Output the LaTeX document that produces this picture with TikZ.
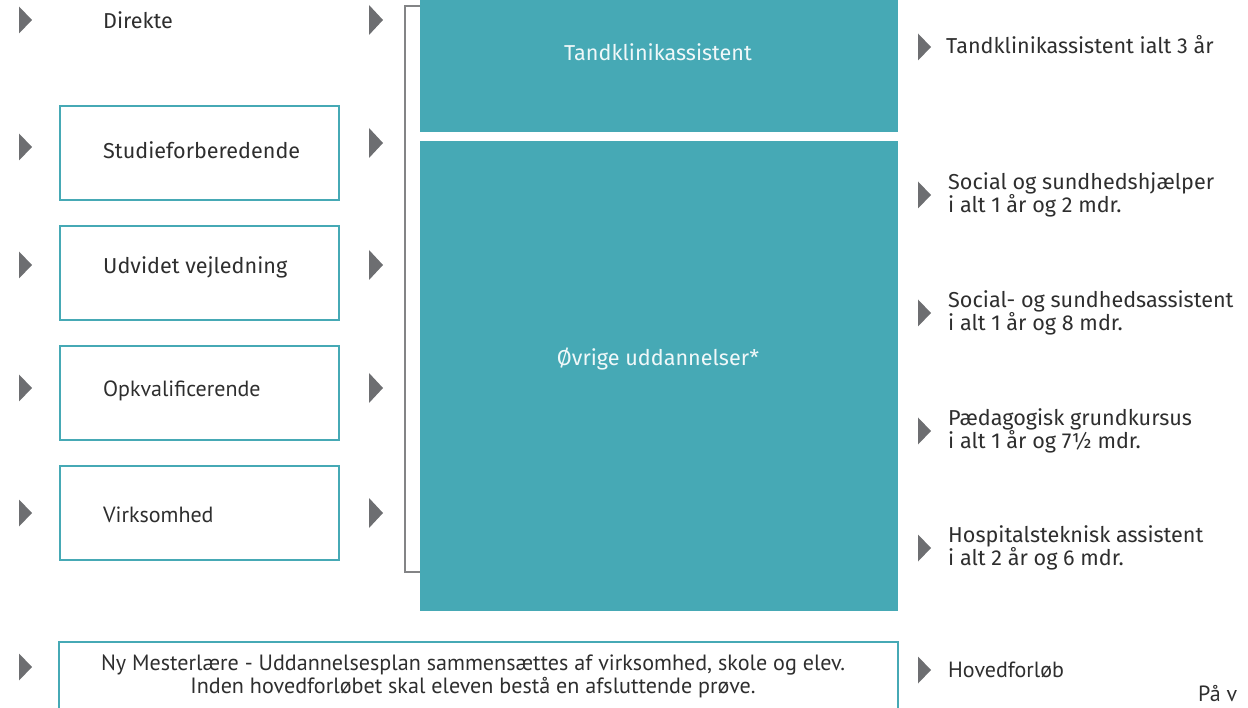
\documentclass[tikz,border=0pt]{standalone}
\usepackage{fontspec}
\setmainfont{Fira Sans}
\newfontfamily\myr{PT Sans}
\definecolor{teal1}{HTML}{46A9B5}
\definecolor{tgrey}{HTML}{6D6E71}
\definecolor{txt}{HTML}{2E2E2E}
\begin{document}
\begin{tikzpicture}[x=1pt,y=-1pt,
  every node/.style={font=\fontsize{21.6}{24}\selectfont, text=txt, inner sep=0pt},
  inbox/.style={draw=teal1, line width=1.6pt, minimum width=279pt, minimum height=94pt, anchor=north west},
  tealbox/.style={fill=teal1, minimum width=478pt, anchor=north west},
  myriad/.style={font=\myr\fontsize{22}{26}\selectfont},
  lbl/.style={anchor=west, align=left, font=\fontsize{21.6}{23}\selectfont}]
\useasboundingbox (0,0) rectangle (1248,708);
\newcommand\tri[4]{\fill[tgrey] (#1,#2-#4/2) -- (#1+#3,#2) -- (#1,#2+#4/2) -- cycle;}
% left triangles
\foreach \y in {20,147,265,388,513,667} {\tri{19}{\y}{13}{27}}
% mid triangles
\foreach \y in {20,143,265,388,513} {\tri{369}{\y}{14}{30}}
% right triangles
\foreach \y in {47,195,313,431,548,670} {\tri{918}{\y}{13}{27}}
% left items
\node[anchor=west] (dir) at (103,20) {Direkte};
\node[inbox] (b1) at (59,105) {};
\node[anchor=west] (t1) at (103,150) {Studieforberedende};
\node[inbox] (b2) at (59,225) {};
\node[anchor=west] (t2) at (103,267) {Udvidet vejledning};
\node[inbox] (b3) at (59,345) {};
\node[anchor=west, myriad] (t3) at (103,391) {Opkvalificerende};
\node[inbox] (b4) at (59,465) {};
\node[anchor=west, myriad] (t4) at (103,515) {Virksomhed};
% bracket
\coordinate (bt) at (420,6);
\coordinate (bb) at (420,572);
\draw[tgrey!85, line width=1.6pt] (bt) -- (405,6) -- (405,572) -- (bb);
% teal boxes
\node[tealbox, minimum height=132pt] (tk) at (420,0) {};
\node (tkt) at (658,52) {\color{white!92!teal1}Tandklinikassistent};
\node[tealbox, minimum height=470pt] (ov) at (420,141) {};
\node (ovt) at (658,359) {\color{white!92!teal1}Øvrige uddannelser*};
% right labels
\node[lbl] (r1) at (946,45) {Tandklinikassistent ialt 3 år};
\node[lbl] (r2) at (948,195) {Social og sundhedshjælper\\i alt 1 år og 2 mdr.};
\node[lbl] (r3) at (948,313) {Social- og sundhedsassistent\\i alt 1 år og 8 mdr.};
\node[lbl] (r4) at (948,431) {Pædagogisk grundkursus\\i alt 1 år og 7½ mdr.};
\node[lbl] (r5) at (948,548) {Hospitalsteknisk assistent\\i alt 2 år og 6 mdr.};
% bottom
\draw[teal1, line width=1.6pt] (59,712) -- (59,642) -- (898,642) -- (898,712);
\node[align=center, font=\myr\fontsize{22.1}{23}\selectfont] (nm) at (473,676) {Ny Mesterlære - Uddannelsesplan sammensættes af virksomhed, skole og elev.\\Inden hovedforløbet skal eleven bestå en afsluttende prøve.};
\node[anchor=west, myriad] (hf) at (948,670) {Hovedforløb};
\node[anchor=west, myriad] (pv) at (1198,694) {På v};
\end{tikzpicture}
\end{document}
